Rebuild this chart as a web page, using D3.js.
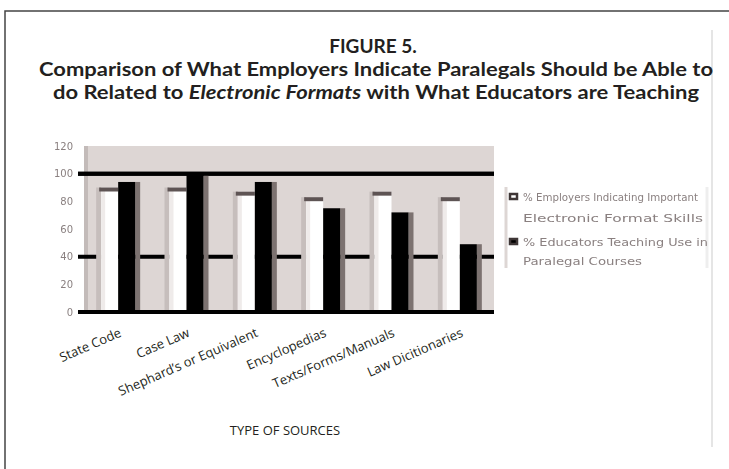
<!DOCTYPE html>
<html>
<head>
<meta charset="utf-8">
<script src="https://cdn.jsdelivr.net/npm/d3@7"></script>
<style>
  html, body { margin: 0; padding: 0; background: #fff; }
  svg { display: block; }
</style>
</head>
<body>
<script>
// Source types shown along the x axis
const categories = ["State Code", "Case Law", "Shephard\u2019s or Equivalent", "Encyclopedias", "Texts/Forms/Manuals", "Law Dicitionaries"];
// Percent of employers rating the electronic format skill as needed
const employerValues = [90, 90, 87, 83, 87, 83];
// Percent of educators teaching the electronic format
const educatorValues = [94, 100, 94, 75, 72, 49];
const yTicks = [0, 20, 40, 60, 80, 100, 120];
const ruleValues = [40, 100];
const legendLabels = [
  ["% Employers Indicating Important", "Electronic Format Skills"],
  ["% Educators Teaching Use in", "Paralegal Courses"]
];

const W = 729, H = 469;
const svg = d3.select("body").append("svg").attr("width", W).attr("height", H);

const defs = svg.append("defs");
defs.append("filter").attr("id", "soft")
  .append("feGaussianBlur").attr("stdDeviation", 0.7);

// Frame
svg.append("path").attr("d", `M5,${H} L5,11 L${W},11`)
  .attr("fill", "none").attr("stroke", "#444").attr("stroke-width", 1.5);
svg.append("line").attr("x1", 712).attr("x2", 712).attr("y1", 30).attr("y2", 447)
  .attr("stroke", "#ddd").attr("stroke-width", 1.5);

// Title
const titleFont = "Lato, 'Open Sans', sans-serif";
svg.append("text").attr("x", 373).attr("y", 53).attr("text-anchor", "middle")
  .attr("font-family", titleFont).attr("font-weight", 700).attr("font-size", 19)
  .attr("fill", "#231f20")
  .text("FIGURE 5.");
svg.append("text").attr("x", 376).attr("y", 76).attr("text-anchor", "middle")
  .attr("font-family", titleFont).attr("font-weight", 700).attr("font-size", 19)
  .attr("fill", "#231f20").attr("textLength", 674).attr("lengthAdjust", "spacingAndGlyphs")
  .text("Comparison of What Employers Indicate Paralegals Should be Able to");
const t3 = svg.append("text").attr("x", 376).attr("y", 99).attr("text-anchor", "middle")
  .attr("font-family", titleFont).attr("font-weight", 700).attr("font-size", 19)
  .attr("fill", "#231f20").attr("textLength", 646).attr("lengthAdjust", "spacingAndGlyphs");
t3.append("tspan").text("do Related to ");
t3.append("tspan").attr("font-style", "italic").text("Electronic Formats");
t3.append("tspan").text(" with What Educators are Teaching");

// Scales
const x = d3.scaleBand().domain(categories).range([84, 494]).padding(0);
const y = d3.scaleLinear().domain([0, 120]).range([312, 146]);

// Plot area background
svg.append("rect").attr("x", x.range()[0]).attr("y", y(120))
  .attr("width", x.range()[1] - x.range()[0]).attr("height", y(0) - y(120))
  .attr("fill", "#ddd6d4");
svg.append("rect").attr("x", x.range()[0]).attr("y", y(120))
  .attr("width", 4).attr("height", y(0) - y(120)).attr("fill", "#c3bbb9");

// Horizontal rules behind bars
svg.append("g").selectAll("line").data(ruleValues).join("line")
  .attr("x1", 78).attr("x2", x.range()[1])
  .attr("y1", d => y(d)).attr("y2", d => y(d))
  .attr("stroke", "#000").attr("stroke-width", 4);

// Bars
const bw = 17;
const groups = svg.append("g").selectAll("g").data(categories).join("g")
  .attr("transform", d => `translate(${x(d) + x.bandwidth() / 2},0)`);

// Employer bars (white with shade on the left and a dark cap)
groups.append("rect")
  .attr("x", -bw - 5).attr("width", 5)
  .attr("y", (d, i) => y(employerValues[i])).attr("height", (d, i) => y(0) - y(employerValues[i]))
  .attr("fill", "#c6bebc");
groups.append("rect")
  .attr("x", -bw).attr("width", bw)
  .attr("y", (d, i) => y(employerValues[i])).attr("height", (d, i) => y(0) - y(employerValues[i]))
  .attr("fill", "#fff");
groups.append("rect")
  .attr("x", -bw).attr("width", 4)
  .attr("y", (d, i) => y(employerValues[i])).attr("height", (d, i) => y(0) - y(employerValues[i]))
  .attr("fill", "#efebea");
groups.append("rect")
  .attr("x", -bw - 2).attr("width", bw + 2)
  .attr("y", (d, i) => y(employerValues[i])).attr("height", 4)
  .attr("fill", "#5e5454");

// Educator bars (black with shade on the right)
groups.append("rect")
  .attr("x", bw).attr("width", 5)
  .attr("y", (d, i) => y(educatorValues[i])).attr("height", (d, i) => y(0) - y(educatorValues[i]))
  .attr("fill", "#7c7270");
groups.append("rect")
  .attr("x", 0).attr("width", bw)
  .attr("y", (d, i) => y(educatorValues[i])).attr("height", (d, i) => y(0) - y(educatorValues[i]))
  .attr("fill", "#000");

// Top rule at 100 drawn over bars, baseline axis
svg.append("line").attr("x1", 78).attr("x2", x.range()[1])
  .attr("y1", y(100)).attr("y2", y(100)).attr("stroke", "#000").attr("stroke-width", 4);
svg.append("line").attr("x1", 78).attr("x2", x.range()[1])
  .attr("y1", y(0)).attr("y2", y(0)).attr("stroke", "#000").attr("stroke-width", 4);

// Y axis labels (soft, small)
const yAxis = d3.axisLeft(y).tickValues(yTicks).tickSize(0).tickPadding(0);
const ya = svg.append("g").attr("transform", "translate(73,0)").call(yAxis);
ya.select(".domain").remove();
ya.selectAll("text").attr("font-family", "'DejaVu Sans', sans-serif").attr("font-size", 10)
  .attr("fill", "#8a8080").attr("filter", "url(#soft)");

// X axis labels (rotated)
const labelFont = "'Open Sans', 'Noto Sans', sans-serif";
svg.append("g").selectAll("text").data(categories).join("text")
  .attr("transform", d => `translate(${x(d) + x.bandwidth() / 2 + 4},336) rotate(-23.5)`)
  .attr("text-anchor", "end")
  .attr("font-family", labelFont).attr("font-size", 13).attr("fill", "#231f20")
  .text(d => d);

svg.append("text").attr("x", 285).attr("y", 435).attr("text-anchor", "middle")
  .attr("font-family", labelFont).attr("font-size", 13).attr("fill", "#231f20")
  .text("TYPE OF SOURCES");

// Legend
const legend = svg.append("g");
legend.append("line").attr("x1", 506).attr("x2", 506).attr("y1", 187).attr("y2", 268)
  .attr("stroke", "#ddd6d4").attr("stroke-width", 3);
legend.append("line").attr("x1", 707).attr("x2", 707).attr("y1", 187).attr("y2", 268)
  .attr("stroke", "#eee").attr("stroke-width", 3);
const keyFills = ["#fff", "#000"];
const lineWidths = [[175, 180], [185, 119]];
const items = legend.selectAll("g").data(legendLabels).join("g")
  .attr("transform", (d, i) => `translate(0,${195 + i * 45})`);
items.append("rect").attr("x", 510).attr("y", -1).attr("width", 7).attr("height", 5)
  .attr("fill", (d, i) => keyFills[i]).attr("stroke", "#3e3636").attr("stroke-width", 2.5);
items.each(function (d, i) {
  d3.select(this).selectAll("text").data(d).join("text")
    .attr("x", 523).attr("y", (t, j) => 6 + j * (i === 0 ? 21 : 19))
    .attr("font-family", "'DejaVu Sans', sans-serif").attr("font-size", 10.5)
    .attr("fill", "#8a8080").attr("filter", "url(#soft)")
    .attr("textLength", (t, j) => lineWidths[i][j]).attr("lengthAdjust", "spacingAndGlyphs")
    .text(t => t);
});
</script>
</body>
</html>
